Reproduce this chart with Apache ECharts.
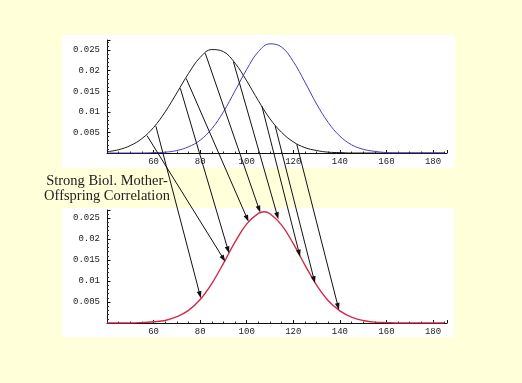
<!DOCTYPE html>
<html>
<head>
<meta charset="utf-8">
<script src="https://cdn.jsdelivr.net/npm/echarts@6/dist/echarts.min.js"></script>
<style>
html,body{margin:0;padding:0;background:#ffffda;}
#c{width:522px;height:383px;}
</style>
</head>
<body>
<div id="c"></div>
<script>
// ---- data ----
const xs = [40,45,50,55,60,65,70,75,80,85,90,95,100,105,110,115,120,125,130,135,140,145,150,155,160,165,170,175,180,185];
const motherVals = [0.0003,0.0008,0.0018,0.0035,0.0062,0.0100,0.0146,0.0193,0.0232,0.0251,0.0246,0.0218,0.0175,0.0127,0.0083,0.0050,0.0027,0.0013,0.0006,0.0002,0.0001,0,0,0,0,0,0,0,0,0];
const shiftedVals = [0,0,0,0,0.0001,0.0002,0.0006,0.0015,0.0031,0.0059,0.0100,0.0151,0.0203,0.0246,0.0265,0.0257,0.0222,0.0172,0.0119,0.0074,0.0041,0.0020,0.0009,0.0004,0.0001,0,0,0,0,0];
const offspringXs = [40,45,50,55,60,65,70,75,80,85,90,95,100,105,107.5,110,115,120,125,130,135,140,145,150,155,160,165,170,175,180,185];
const offspringVals = [0,0,0,0.0001,0.0003,0.0006,0.0015,0.0030,0.0056,0.0094,0.0142,0.0193,0.0236,0.0261,0.0265,0.0260,0.0233,0.0189,0.0138,0.0090,0.0053,0.0029,0.0014,0.0006,0.0002,0.0001,0,0,0,0,0];
const xTickLabels = [60,80,100,120,140,160,180];
const yTickLabels = [0.005,0.01,0.015,0.02,0.025];
// arrows: from mother curve (top) to offspring curve (bottom)
const arrowFromX = [57.2,61.0,71.5,74.0,82.2,94.3,106.5,112.2,121.5];
const arrowFromY = [0.0042,0.0065,0.0157,0.0181,0.0242,0.0221,0.0114,0.0066,0.0021];
const arrowToX = [90.8,80.3,92.4,100.8,105.8,113.6,122.9,129.3,139.6];
const arrowToY = [0.0146,0.0059,0.0166,0.0241,0.0263,0.0247,0.0158,0.0095,0.0031];
const captionLines = ['Strong Biol. Mother-','Offspring Correlation'];

const chart = echarts.init(document.getElementById('c'), null, {renderer:'canvas'});
const monoFont = 'Liberation Mono';

function xAxisCfg(gi){
  return {
    type:'value', gridIndex:gi, min:40, max:186, interval:20,
    axisLine:{show:true, onZero:true, lineStyle:{color:'#111', width:1}},
    axisTick:{show:true, inside:true, length:3, lineStyle:{color:'#111'}},
    minorTick:{show:true, splitNumber:4, length:1.5, lineStyle:{color:'#333'}},
    splitLine:{show:false},
    axisLabel:{
      margin:4, fontFamily:monoFont, fontSize:9, color:'#222',
      formatter:function(v){ return xTickLabels.indexOf(Math.round(v))>=0 && Math.abs(v-Math.round(v))<1e-6 ? String(Math.round(v)) : ''; }
    }
  };
}
function yAxisCfg(gi, max){
  return {
    type:'value', gridIndex:gi, min:0, max:max, interval:0.005,
    axisLine:{show:true, lineStyle:{color:'#111', width:1}},
    axisTick:{show:true, inside:true, length:3.5, lineStyle:{color:'#111'}},
    minorTick:{show:true, splitNumber:5, length:2, lineStyle:{color:'#333'}},
    splitLine:{show:false},
    axisLabel:{
      margin:7, fontFamily:monoFont, fontSize:9, color:'#222',
      formatter:function(v){
        for (const t of yTickLabels){ if (Math.abs(v-t)<1e-9) return String(t); }
        return '';
      }
    }
  };
}
function pairs(xv, vals){ return xv.map((x,i)=>[x, vals[i]]); }

const option = {
  backgroundColor:'#ffffda',
  animation:false,
  grid:[
    {left:107, top:40, width:340, height:113},
    {left:107, top:210, width:340, height:113}
  ],
  xAxis:[xAxisCfg(0), xAxisCfg(1)],
  yAxis:[yAxisCfg(0, 113/4120), yAxisCfg(1, 113/4200)],
  series:[
    {type:'line', xAxisIndex:0, yAxisIndex:0, data:pairs(xs, motherVals), smooth:0.4, showSymbol:false,
     lineStyle:{color:'#1a1a1a', width:1}, z:3},
    {type:'line', xAxisIndex:0, yAxisIndex:0, data:pairs(xs, shiftedVals), smooth:0.4, showSymbol:false,
     lineStyle:{color:'#4a3cc0', width:1}, z:3},
    {type:'line', xAxisIndex:1, yAxisIndex:1, data:pairs(offspringXs, offspringVals), smooth:0.4, showSymbol:false,
     lineStyle:{color:'#d6284a', width:1.4}, z:3}
  ]
};
chart.setOption(option);

const elements = [
  {type:'rect', id:'p1', z:-10, shape:{x:62, y:35, width:393, height:133}, style:{fill:'#ffffff'}, silent:true},
  {type:'rect', id:'p2', z:-10, shape:{x:62, y:208, width:392, height:129}, style:{fill:'#ffffff'}, silent:true},
  {type:'text', id:'t1', z:50, x:107, y:181, style:{text:captionLines[0], font:'14.5px "Liberation Serif"', fill:'#222', textAlign:'center', textVerticalAlign:'middle'}},
  {type:'text', id:'t2', z:50, x:107, y:196, style:{text:captionLines[1], font:'14.5px "Liberation Serif"', fill:'#222', textAlign:'center', textVerticalAlign:'middle'}}
];
for (let i=0;i<arrowFromX.length;i++){
  const a = chart.convertToPixel({gridIndex:0}, [arrowFromX[i], arrowFromY[i]]);
  const b = chart.convertToPixel({gridIndex:1}, [arrowToX[i], arrowToY[i]]);
  const dx=b[0]-a[0], dy=b[1]-a[1], L=Math.sqrt(dx*dx+dy*dy);
  const ux=dx/L, uy=dy/L, nx=-uy, ny=ux;
  const hl=7, hw=2.4;
  const bx=b[0]-hl*ux, by=b[1]-hl*uy;
  elements.push({type:'line', id:'al'+i, z:60, shape:{x1:a[0], y1:a[1], x2:bx+2*ux, y2:by+2*uy}, style:{stroke:'#111', lineWidth:1}});
  elements.push({type:'polygon', id:'ah'+i, z:60, shape:{points:[[b[0],b[1]],[bx+hw*nx,by+hw*ny],[bx-hw*nx,by-hw*ny]]}, style:{fill:'#111'}});
}
chart.setOption({graphic:{elements:elements}});
</script>
</body>
</html>
